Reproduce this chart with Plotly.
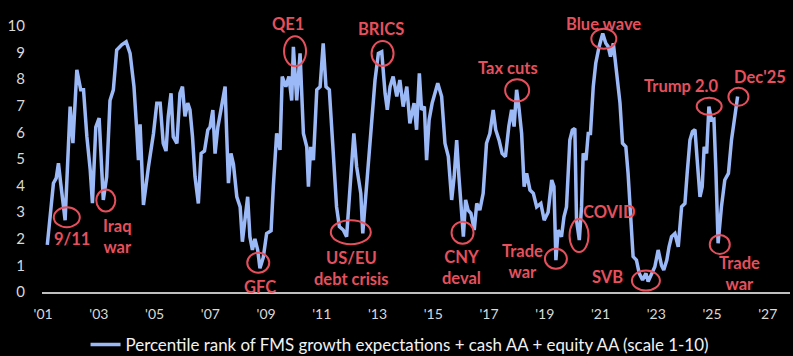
import plotly.graph_objects as go

# ---- data (decimal years, scale 1-10) ----
years = [2001.15, 2001.37, 2001.47, 2001.55, 2001.63, 2001.79, 2001.97, 2002.07, 2002.21, 2002.35,
         2002.45, 2002.57, 2002.69, 2002.77, 2002.89, 2003.01, 2003.11, 2003.16, 2003.28, 2003.40,
         2003.52, 2003.64, 2003.82, 2003.98, 2004.12, 2004.26, 2004.36, 2004.42, 2004.48, 2004.60,
         2004.78, 2004.96, 2005.08, 2005.20, 2005.31, 2005.41, 2005.49, 2005.59, 2005.67, 2005.80,
         2005.91, 2006.00, 2006.09, 2006.19, 2006.27, 2006.36, 2006.45, 2006.57, 2006.67, 2006.79,
         2006.91, 2006.99, 2007.09, 2007.17, 2007.27, 2007.41, 2007.53, 2007.59, 2007.65, 2007.74,
         2007.83, 2007.95, 2008.07, 2008.15, 2008.25, 2008.34, 2008.42, 2008.51, 2008.60, 2008.70,
         2008.78, 2008.90, 2009.02, 2009.18, 2009.26, 2009.38, 2009.50, 2009.58, 2009.71, 2009.82,
         2009.92, 2009.98, 2010.10, 2010.22, 2010.34, 2010.46, 2010.52, 2010.60, 2010.70, 2010.82,
         2010.94, 2011.05, 2011.15, 2011.27, 2011.39, 2011.53, 2011.63, 2011.77, 2011.89, 2012.01,
         2012.15, 2012.25, 2012.40, 2012.47, 2012.59, 2012.70, 2012.79, 2012.91, 2013.03, 2013.15,
         2013.27, 2013.35, 2013.45, 2013.56, 2013.69, 2013.80, 2013.92, 2014.05, 2014.16, 2014.31,
         2014.40, 2014.50, 2014.58, 2014.68, 2014.76, 2014.85, 2014.96, 2015.16, 2015.30, 2015.42,
         2015.54, 2015.66, 2015.75, 2015.84, 2015.92, 2016.02, 2016.08, 2016.16, 2016.25, 2016.35,
         2016.47, 2016.56, 2016.67, 2016.79, 2016.91, 2017.03, 2017.15, 2017.24, 2017.36, 2017.47,
         2017.59, 2017.71, 2017.81, 2017.90, 2017.99, 2018.07, 2018.17, 2018.26, 2018.35, 2018.47,
         2018.59, 2018.71, 2018.86, 2018.98, 2019.12, 2019.25, 2019.33, 2019.40, 2019.48, 2019.60,
         2019.69, 2019.78, 2019.90, 2019.99, 2020.08, 2020.14, 2020.24, 2020.32, 2020.38, 2020.48,
         2020.56, 2020.64, 2020.74, 2020.83, 2020.95, 2021.08, 2021.19, 2021.28, 2021.36, 2021.46,
         2021.58, 2021.70, 2021.79, 2021.91, 2021.99, 2022.08, 2022.17, 2022.29, 2022.39, 2022.51,
         2022.63, 2022.71, 2022.83, 2022.95, 2023.07, 2023.19, 2023.27, 2023.38, 2023.46, 2023.55,
         2023.67, 2023.79, 2023.91, 2024.03, 2024.11, 2024.21, 2024.30, 2024.39, 2024.47, 2024.57,
         2024.65, 2024.72, 2024.81, 2024.89, 2024.98, 2025.07, 2025.14, 2025.22, 2025.34, 2025.46,
         2025.59, 2025.70, 2025.82, 2025.92]
values = [1.77, 4.09, 4.28, 4.84, 4.10, 2.70, 6.97, 5.60, 8.35, 7.60,
          7.60, 5.84, 4.59, 3.34, 6.20, 6.54, 4.47, 3.46, 4.33, 7.20,
          7.60, 9.10, 9.29, 9.41, 8.97, 7.72, 6.09, 4.96, 6.30, 3.27,
          4.71, 5.96, 7.10, 7.10, 5.59, 5.30, 6.60, 7.47, 5.84, 5.59,
          7.47, 7.72, 6.60, 7.10, 6.85, 5.84, 4.34, 3.33, 5.21, 5.30,
          6.09, 6.20, 6.84, 5.20, 6.20, 7.09, 7.72, 5.84, 4.09, 5.21,
          4.80, 3.58, 3.20, 1.89, 2.70, 3.58, 2.08, 1.58, 2.00, 1.58,
          0.89, 1.30, 2.20, 2.30, 3.96, 5.96, 5.34, 8.10, 7.72, 8.10,
          7.20, 9.22, 7.20, 8.97, 5.96, 5.46, 3.96, 5.46, 4.96, 7.60,
          7.72, 9.35, 7.72, 7.60, 5.59, 3.20, 2.46, 2.33, 2.08, 3.96,
          5.96, 4.71, 3.70, 2.20, 3.70, 5.09, 6.47, 7.97, 8.97, 9.03,
          7.47, 6.85, 7.72, 8.10, 7.35, 7.97, 6.97, 7.72, 6.34, 7.10,
          6.10, 8.22, 6.85, 6.97, 4.96, 6.47, 7.10, 7.85, 7.35, 5.59,
          5.09, 3.46, 4.34, 5.71, 4.34, 2.96, 2.08, 3.46, 3.08, 2.96,
          2.33, 3.33, 3.08, 3.71, 5.59, 5.96, 6.84, 6.10, 5.71, 5.21,
          5.09, 6.22, 6.85, 6.22, 7.60, 6.97, 5.96, 3.96, 4.46, 3.83,
          3.71, 3.20, 3.33, 2.70, 3.00, 4.21, 3.96, 1.20, 2.33, 2.08,
          2.83, 3.20, 5.71, 6.09, 6.15, 2.70, 1.95, 3.20, 5.21, 4.96,
          5.96, 5.96, 7.72, 8.60, 9.22, 9.72, 9.35, 9.22, 8.85, 9.35,
          8.35, 7.10, 5.59, 5.46, 4.46, 2.70, 1.33, 1.20, 0.70, 0.45,
          0.70, 0.39, 0.70, 0.95, 1.58, 1.00, 0.83, 1.20, 1.70, 2.08,
          2.20, 1.70, 3.20, 3.33, 4.46, 5.71, 6.03, 6.10, 4.96, 3.58,
          3.96, 5.46, 5.21, 6.97, 6.47, 6.50, 4.59, 1.83, 3.20, 4.21,
          4.46, 5.71, 6.60, 7.35]

series_name = "Percentile rank of FMS growth expectations + cash AA + equity AA (scale 1-10)"

tick_years = list(range(2001, 2028, 2))
tick_labels = ["'" + str(y)[2:] for y in tick_years]

# events highlighted on the chart
event_labels = ["9/11", "Iraq<br>war", "GFC", "QE1", "US/EU<br>debt crisis", "BRICS", "CNY<br>deval",
                "Tax cuts", "Trade<br>war", "COVID", "Blue wave", "SVB", "Trump 2.0", "Dec'25", "Trade<br>war"]
event_years = [2001.85, 2003.25, 2008.72, 2010.04, 2012.04, 2013.18, 2016.05,
               2018.01, 2019.40, 2020.23, 2021.12, 2022.63, 2024.90, 2025.95, 2025.28]
event_values = [2.81, 3.44, 1.10, 9.05, 2.25, 8.97, 2.23,
                7.58, 1.25, 2.12, 9.52, 0.43, 6.98, 7.34, 1.79]

# ---- styling / placement (pixels) ----
circle_rx = [13, 9.5, 11, 11, 20, 11, 11, 12, 11, 9.5, 12.5, 14, 12.5, 10, 10]
circle_ry = [10, 11, 10, 15, 12, 12.5, 11, 11, 10, 16.5, 10, 10, 8.5, 9, 9.5]
label_dx = [5, 12, 2, -7, 1, -2, -1, -9, -33, 30, 0, -38, -28, 22, 20]
label_dy = [-22, -36, -24, 27, -36, 24, -35, 22, -3, 24, 15, 4, 20, 20, -29]

RED = "#E6505D"
LINE = "#9CB9F7"
FONT = "Lato"

fig = go.Figure()
fig.add_trace(go.Scatter(x=years, y=values, mode="lines", name=series_name,
                         line=dict(color=LINE, width=3.5), showlegend=True))

shapes = []
annotations = []
for i, lab in enumerate(event_labels):
    shapes.append(dict(type="circle", xref="x", yref="y",
                       xsizemode="pixel", ysizemode="pixel",
                       xanchor=event_years[i], yanchor=event_values[i],
                       x0=-circle_rx[i], x1=circle_rx[i], y0=-circle_ry[i], y1=circle_ry[i],
                       line=dict(color=RED, width=2), layer="above"))
    annotations.append(dict(x=event_years[i], y=event_values[i], xref="x", yref="y",
                            text="<b>" + lab + "</b>", showarrow=False,
                            xshift=label_dx[i], yshift=label_dy[i],
                            font=dict(family=FONT, size=16.5, color=RED),
                            xanchor="center", yanchor="middle", align="center"))

fig.update_layout(
    width=793, height=356,
    paper_bgcolor="black", plot_bgcolor="black",
    margin=dict(l=42, r=3, t=26, b=64, autoexpand=False),
    font=dict(family=FONT, color="#D9D9D9", size=15),
    shapes=shapes, annotations=annotations,
    showlegend=True,
    legend=dict(orientation="h", x=0.478, xanchor="center", y=-0.197, yanchor="middle",
                font=dict(family=FONT, size=16.9, color="#F2F2F2"),
                bgcolor="rgba(0,0,0,0)", itemwidth=30),
)
fig.update_xaxes(range=[2000.96, 2027.8], tickvals=tick_years, ticktext=tick_labels,
                 showgrid=False, zeroline=False, showline=True, linecolor="#BFBFBF", linewidth=2,
                 ticks="", ticklabelstandoff=8, automargin=False,
                 tickfont=dict(family=FONT, size=14, color="#D9D9D9"))
fig.update_yaxes(range=[0, 10], tickvals=list(range(0, 11)), showgrid=False, zeroline=False,
                 showline=False, ticks="", ticklabelstandoff=16, automargin=False,
                 tickfont=dict(family=FONT, size=15, color="#D9D9D9"))

fig.write_html("out.html", config={"displayModeBar": False},
               post_script="document.body.style.margin='0';document.body.style.background='black';")
